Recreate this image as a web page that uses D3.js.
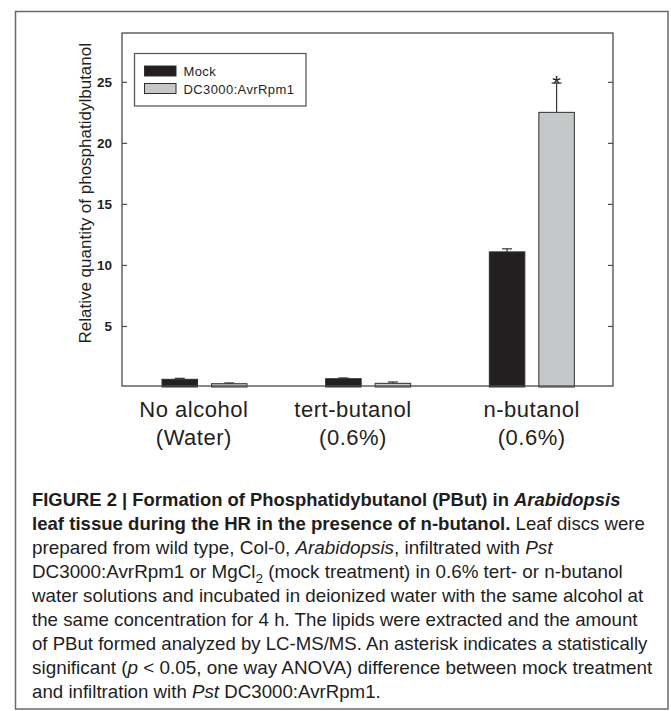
<!DOCTYPE html>
<html>
<head>
<meta charset="utf-8">
<script src="https://cdn.jsdelivr.net/npm/d3@7/dist/d3.min.js"></script>
<style>
  html, body { margin: 0; padding: 0; background: #fff; }
  svg { display: block; }
</style>
</head>
<body>
<svg id="chart" width="671" height="711"></svg>
<script>
// ---------------- DATA ----------------
const categoryLine1 = ["No alcohol", "tert-butanol", "n-butanol"];
const categoryLine2 = ["(Water)", "(0.6%)", "(0.6%)"];
const seriesNames = ["Mock", "DC3000:AvrRpm1"];
const mockValues = [0.63, 0.68, 11.07];
const mockErrors = [0.08, 0.06, 0.25];
const avrValues = [0.27, 0.30, 22.5];
const avrErrors = [0.06, 0.11, 2.4];
const avrSignificant = [false, false, true];
const yTicks = [5, 10, 15, 20, 25];
const yDomain = [0, 29];
const yAxisTitle = "Relative quantity of phosphatidylbutanol";

// caption lines: arrays of [text, style]  (b = bold, bi = bold italic, i = italic, sub = subscript, n = normal)
const captionLines = [
  [["FIGURE 2 | Formation of Phosphatidybutanol (PBut) in ", "b"], ["Arabidopsis", "bi"]],
  [["leaf tissue during the HR in the presence of n-butanol.", "b"], [" Leaf discs were", "n"]],
  [["prepared from wild type, Col-0, ", "n"], ["Arabidopsis", "i"], [", infiltrated with ", "n"], ["Pst", "i"]],
  [["DC3000:AvrRpm1 or MgCl", "n"], ["2", "sub"], [" (mock treatment) in 0.6% tert- or n-butanol", "n"]],
  [["water solutions and incubated in deionized water with the same alcohol at", "n"]],
  [["the same concentration for 4 h. The lipids were extracted and the amount", "n"]],
  [["of PBut formed analyzed by LC-MS/MS. An asterisk indicates a statistically", "n"]],
  [["significant (", "n"], ["p", "i"], [" < 0.05, one way ANOVA) difference between mock treatment", "n"]],
  [["and infiltration with ", "n"], ["Pst", "i"], [" DC3000:AvrRpm1.", "n"]]
];

// ---------------- LAYOUT / STYLE ----------------
const plot = { left: 122, right: 613, top: 33, bottom: 387 };
const captionRightEdges = [621, 645, 553, 623, 644, 638, 648, 653, 381];
const captionLeft = 32, captionFirstBaseline = 505.5, captionLeading = 24;
const labelNudge = [-10, -14.5, 0.5];
const colors = { mock: "#231f20", avr: "#c6c7c9", axis: "#4a4a4a", text: "#231f20", frame: "#6a6a6a" };
const FONT = "'Liberation Sans', Arial, Helvetica, sans-serif";

const svg = d3.select("#chart");

// outer frame
svg.append("rect")
  .attr("x", 15.5).attr("y", 11.5).attr("width", 652.5).attr("height", 697.5)
  .attr("fill", "none").attr("stroke", colors.frame).attr("stroke-width", 1.5);

// scales
const x = d3.scaleBand().domain(d3.range(categoryLine1.length)).range([plot.left, plot.right]).padding(0);
const xs = d3.scaleBand().domain(seriesNames).range([40, 125]).paddingInner(0.283).paddingOuter(0);
const y = d3.scaleLinear().domain(yDomain).range([plot.bottom, plot.top]);

const data = categoryLine1.map((c, i) => ({
  i,
  bars: [
    { s: seriesNames[0], v: mockValues[i], e: mockErrors[i], fill: colors.mock, sig: false },
    { s: seriesNames[1], v: avrValues[i], e: avrErrors[i], fill: colors.avr, sig: avrSignificant[i] }
  ]
}));

// bars
const g = svg.append("g");
const groups = g.selectAll("g.grp").data(data).join("g")
  .attr("class", "grp")
  .attr("transform", d => `translate(${x(d.i)},0)`);

// error bars (drawn first so the bar covers the stem bottom)
groups.selectAll("g.err").data(d => d.bars).join("g").attr("class", "err")
  .each(function(b) {
    const gg = d3.select(this);
    const cx = xs(b.s) + xs.bandwidth() / 2;
    gg.append("line").attr("x1", cx).attr("x2", cx).attr("y1", y(b.v)).attr("y2", y(b.v + b.e))
      .attr("stroke", "#333").attr("stroke-width", 1.2);
    gg.append("line").attr("x1", cx - 5).attr("x2", cx + 5).attr("y1", y(b.v + b.e)).attr("y2", y(b.v + b.e))
      .attr("stroke", "#333").attr("stroke-width", 1.2);
    if (b.sig) {
      gg.append("text").attr("x", cx).attr("y", y(b.v + b.e) + 8)
        .attr("text-anchor", "middle").attr("font-family", FONT).attr("font-size", 22)
        .attr("fill", colors.text).text("*");
    }
  });

groups.selectAll("rect.bar").data(d => d.bars).join("rect").attr("class", "bar")
  .attr("x", b => xs(b.s))
  .attr("width", xs.bandwidth())
  .attr("y", b => y(b.v))
  .attr("height", b => y(0) - y(b.v))
  .attr("fill", b => b.fill)
  .attr("stroke", "#2e2e2e").attr("stroke-width", 1);

// axes
const leftAxis = d3.axisLeft(y).tickValues(yTicks).tickSize(-5).tickPadding(10).tickFormat(d3.format("d"));
const gl = svg.append("g").attr("transform", `translate(${plot.left},0)`).call(leftAxis);
gl.select(".domain").remove();
gl.selectAll(".tick line").attr("stroke", colors.axis).attr("stroke-width", 1.2);
gl.selectAll(".tick text").attr("font-family", FONT).attr("font-size", 13.5).attr("font-weight", "bold")
  .attr("fill", colors.text);

const rightAxis = d3.axisRight(y).tickValues(yTicks).tickSize(-5).tickFormat("");
const gr = svg.append("g").attr("transform", `translate(${plot.right},0)`).call(rightAxis);
gr.select(".domain").remove();
gr.selectAll(".tick line").attr("stroke", colors.axis).attr("stroke-width", 1.2);

// plot box
svg.append("rect")
  .attr("x", plot.left).attr("y", plot.top)
  .attr("width", plot.right - plot.left).attr("height", y(0) - 1 - plot.top)
  .attr("fill", "none").attr("stroke", colors.axis).attr("stroke-width", 1.3);

// y-axis title
svg.append("text")
  .attr("transform", `translate(90.5,43) rotate(-90)`)
  .attr("text-anchor", "end")
  .attr("font-family", FONT).attr("font-size", 17).attr("fill", colors.text)
  .text(yAxisTitle);

// x category labels
const xl = svg.append("g");
categoryLine1.forEach((c, i) => {
  const cx = x(i) + x.bandwidth() / 2 + labelNudge[i];
  xl.append("text").attr("x", cx).attr("y", 417).attr("text-anchor", "middle")
    .attr("font-family", FONT).attr("font-size", 22).attr("letter-spacing", 0.5)
    .attr("fill", colors.text).text(c);
  xl.append("text").attr("x", cx).attr("y", 445).attr("text-anchor", "middle")
    .attr("font-family", FONT).attr("font-size", 22).attr("letter-spacing", 0.5)
    .attr("fill", colors.text).text(categoryLine2[i]);
});

// legend
const lg = svg.append("g");
lg.append("rect").attr("x", 134.5).attr("y", 53.5).attr("width", 171.5).attr("height", 52.5)
  .attr("fill", "#fff").attr("stroke", "#5a5a5a").attr("stroke-width", 1.3);
[colors.mock, colors.avr].forEach((col, k) => {
  lg.append("rect").attr("x", 144.5).attr("y", 66 + k * 17.5).attr("width", 31.5).attr("height", 10)
    .attr("fill", col).attr("stroke", "#2e2e2e").attr("stroke-width", 1);
  lg.append("text").attr("x", 183.5).attr("y", 76 + k * 17.5)
    .attr("font-family", FONT).attr("font-size", 13).attr("letter-spacing", 0.4)
    .attr("fill", colors.text).text(seriesNames[k]);
});

// caption
const cap = svg.append("g");
captionLines.forEach((segs, li) => {
  const t = cap.append("text")
    .attr("font-family", FONT).attr("font-size", 18).attr("fill", "#1e1e1e");
  const subIdx = segs.findIndex(s => s[1] === "sub");
  segs.forEach(([txt, st], si) => {
    const ts = t.append("tspan").text(txt);
    if (st === "b" || st === "bi") ts.attr("font-weight", "bold");
    if (st === "i" || st === "bi") ts.attr("font-style", "italic");
    if (st === "sub") ts.attr("font-size", 13).attr("dy", 5);
    if (subIdx >= 0 && si === subIdx + 1) ts.attr("dy", -5);
  });
  const w = t.node().getComputedTextLength();
  const target = captionRightEdges[li] - captionLeft;
  t.attr("transform", `translate(${captionLeft},${captionFirstBaseline + li * captionLeading}) scale(${target / w},1)`);
});
</script>
</body>
</html>
